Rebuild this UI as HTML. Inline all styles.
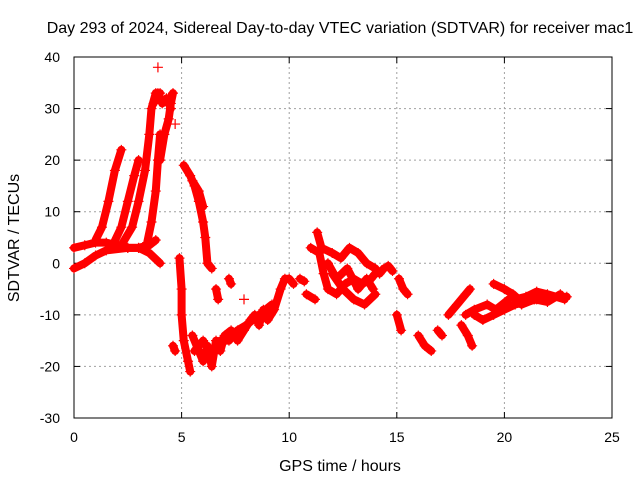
<!DOCTYPE html>
<html><head><meta charset="utf-8"><style>
body{margin:0;background:#fff}
svg text{font-family:"Liberation Sans",sans-serif;font-size:14px;fill:#000}
svg text.big{font-size:16px}
</style></head><body>
<svg id="chart" width="640" height="480" xmlns="http://www.w3.org/2000/svg">
<rect width="640" height="480" fill="#fff"/>
<text class="big" x="340" y="33" text-anchor="middle">Day 293 of 2024, Sidereal Day-to-day VTEC variation (SDTVAR) for receiver mac1</text>
<text class="big" x="340" y="471" text-anchor="middle">GPS time / hours</text>
<text class="big" transform="translate(19,238) rotate(-90)" text-anchor="middle">SDTVAR / TECUs</text>
<g id="grid"></g>
<g id="axes"></g>
<g id="marks"></g>
</svg>
<script>
const xTicks=[0,5,10,15,20,25];
const yTicks=[-30,-20,-10,0,10,20,30,40];
const tracks=[
[[0,-1],[0.5,0],[1,1.5],[1.5,2.5],[2.5,3],[3,3],[3.5,2],[4,0]],
[[0,3],[0.5,3.5],[1,4],[1.5,4],[2,3.5],[2.5,3],[3,3],[3.5,3.5],[3.8,4.5]],
[[1,4.5],[1.3,7],[1.6,12],[1.9,18],[2.2,22]],
[[1.8,3.5],[2.2,7],[2.5,12],[2.8,17],[3,20]],
[[2.2,3.5],[2.7,7],[3,12],[3.3,18],[3.5,25],[3.6,30],[3.8,33],[4,33]],
[[3.4,4],[3.6,8],[3.8,14],[3.9,20],[4,25]],
[[4,20],[4.2,25],[4.4,28],[4.5,31],[4.6,33],[4.4,31.5]],
[[3.7,31],[3.9,33],[4.1,31],[4.3,32],[4.5,30]],
[[3.9,38]],[[4.7,27]],
[[5.1,19],[5.4,17],[5.6,15],[5.8,12],[6,8],[6.1,5],[6.2,0],[6.4,-1]],
[[5.5,16],[5.8,14],[6,11]],
[[6.6,-5],[6.7,-7]],[[7.2,-3],[7.3,-4]],
[[4.9,1],[5,-5],[5,-10],[5.1,-15],[5.3,-19],[5.4,-21]],
[[4.6,-16],[4.7,-17]],
[[5.5,-14],[5.8,-17],[6,-19],[6.2,-16],[6.4,-20],[6.6,-15],[6.8,-17],[7,-14],[7.3,-13],[7.6,-15],[7.9,-13],[8.2,-11],[8.4,-10],[8.6,-12],[8.8,-9],[9,-11],[9.3,-9],[9.6,-5],[9.8,-3],[10,-3],[10.2,-4]],
[[5.6,-17],[6,-15],[6.4,-18],[6.8,-15],[7.2,-15],[7.6,-13],[8,-12],[8.6,-10],[9.2,-8]],
[[7.9,-7]],[[10.5,-3],[10.7,-3.5]],
[[11,3],[11.4,2],[11.6,-2],[11.8,-5],[12.2,-6],[12.6,-4],[13,-3],[13.4,-4],[13.8,-3],[14,-2]],
[[11.3,6],[11.5,3],[12,2],[12.4,1],[12.8,3],[13.2,2],[13.6,0],[14,-1],[14.2,-2],[14.4,-1]],
[[12,-2],[12.5,-5],[13,-7],[13.5,-8],[14,-6]],
[[11.8,0],[12.2,-3],[12.7,-1],[13.2,-5],[13.6,-3],[13.9,-5]],
[[10.8,-6],[11.2,-7]],[[14.6,-0.5],[14.8,-1.5]],
[[15.1,-3],[15.3,-5],[15.5,-6]],[[15,-10],[15.2,-13]],
[[16,-14],[16.3,-16],[16.6,-17]],[[16.9,-13],[17.1,-14]],
[[17.4,-10],[17.8,-8],[18.2,-6],[18.4,-5]],[[18,-12],[18.3,-14],[18.5,-16]],
[[18.2,-10],[18.6,-9],[19.2,-8],[19.6,-9],[20.2,-7]],
[[18.6,-10],[19,-11],[19.5,-10],[20,-9],[20.5,-8],[21,-7.5],[21.5,-7],[22,-6.5],[22.9,-6.5]],
[[19.5,-4],[20,-5],[20.4,-6],[20.8,-7.5]],
[[20.5,-7],[21,-6.5],[21.5,-5.5],[22,-6],[22.8,-7]],
[[20.8,-8],[21.4,-7],[22,-7.5],[22.6,-6]]
];
const L=74,R=612,T=57,B=418;
const xs=v=>L+(v-0)/25*(R-L);
const ys=v=>B-(v+30)/70*(B-T);
const NS="http://www.w3.org/2000/svg";
function mk(tag,parent,attrs){const e=document.createElementNS(NS,tag);for(const k in attrs)e.setAttribute(k,attrs[k]);parent.appendChild(e);return e;}
const grid=document.getElementById('grid'),axes=document.getElementById('axes'),marks=document.getElementById('marks');
xTicks.forEach(t=>{const x=xs(t);
 if(t>0&&t<25){const g=mk('line',grid,{x1:x,x2:x,y1:T,y2:B,stroke:'#a0a0a0','stroke-dasharray':'2,3'});}
 mk('line',axes,{x1:x,x2:x,y1:B,y2:B-6,stroke:'#000'});mk('line',axes,{x1:x,x2:x,y1:T,y2:T+6,stroke:'#000'});
 const tx=mk('text',axes,{x:x,y:B+24,'text-anchor':'middle'});tx.textContent=t;
 });
yTicks.forEach(t=>{const y=ys(t);
 if(t>-30&&t<40){const g=mk('line',grid,{x1:L,x2:R,y1:y,y2:y,stroke:'#a0a0a0','stroke-dasharray':'2,3'});}
 mk('line',axes,{x1:L,x2:L+6,y1:y,y2:y,stroke:'#000'});mk('line',axes,{x1:R,x2:R-6,y1:y,y2:y,stroke:'#000'});
 const tx=mk('text',axes,{x:L-14,y:y+5,'text-anchor':'end'});tx.textContent=t;
 });
mk('rect',axes,{x:L,y:T,width:R-L,height:B-T,fill:'none',stroke:'#000'});
tracks.forEach(tr=>{
 const p=mk('polyline',marks,{points:tr.map(d=>xs(d[0])+','+ys(d[1])).join(' '),fill:'none',stroke:'#f00','stroke-width':8,'stroke-linejoin':'round','stroke-linecap':'round'});
 
 
 tr.forEach(d=>{const x=xs(d[0]),y=ys(d[1]);
  const m=mk('path',marks,{d:`M${x-5},${y}h10M${x},${y-5}v10`,stroke:'#f00','stroke-width':1.2});
  
  });
});
</script>
</body></html>
